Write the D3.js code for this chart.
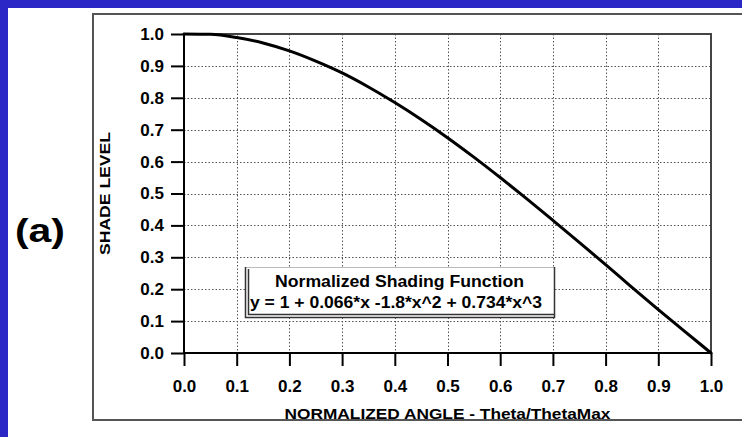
<!DOCTYPE html>
<html>
<head>
<meta charset="utf-8">
<script src="https://cdn.jsdelivr.net/npm/d3@7"></script>
<style>
  html, body { margin: 0; padding: 0; background: #ffffff; }
  svg { display: block; }
  text { font-family: "Liberation Sans", Arial, Helvetica, sans-serif; font-weight: bold; fill: #000; }
</style>
</head>
<body>
<svg id="chart" width="742" height="437"></svg>
<script>
// Normalized angle samples and the shade level read at each one
const angleValues = [0, 0.05, 0.1, 0.15, 0.2, 0.25, 0.3, 0.35, 0.4, 0.45, 0.5,
                     0.55, 0.6, 0.65, 0.7, 0.75, 0.8, 0.85, 0.9, 0.95, 1.0];
const shadeValues = [1.0, 0.999, 0.989, 0.972, 0.947, 0.915, 0.878, 0.834, 0.785, 0.732, 0.675,
                     0.614, 0.550, 0.484, 0.416, 0.347, 0.277, 0.206, 0.136, 0.068, 0.0];

// Tick values for both axes
const xTicks = [0, 0.1, 0.2, 0.3, 0.4, 0.5, 0.6, 0.7, 0.8, 0.9, 1.0];
const yTicks = [0, 0.1, 0.2, 0.3, 0.4, 0.5, 0.6, 0.7, 0.8, 0.9, 1.0];

// Text
const xTitle = "NORMALIZED ANGLE - Theta/ThetaMax";
const yTitle = "SHADE LEVEL";
const panelLabel = "(a)";
const legendTitle = "Normalized Shading Function";
const legendEquation = "y = 1 + 0.066*x -1.8*x^2 + 0.734*x^3";

const svg = d3.select("#chart");
const W = 742, H = 437;

// Page background with blue edge strips
svg.append("rect").attr("width", W).attr("height", H).attr("fill", "#ffffff");
svg.append("rect").attr("x", 0).attr("y", 0).attr("width", W).attr("height", 8).attr("fill", "#2b27c6");
svg.append("rect").attr("x", 0).attr("y", 0).attr("width", 8).attr("height", H).attr("fill", "#2b27c6");

// Chart panel frame (runs off the right edge)
svg.append("rect")
  .attr("x", 93).attr("y", 14).attr("width", 700).attr("height", 406)
  .attr("fill", "none").attr("stroke", "#555").attr("stroke-width", 2);

// Scales
const x = d3.scaleLinear().domain([0, 1]).range([184, 711]);
const y = d3.scaleLinear().domain([0, 1]).range([353, 34]);

// Dotted grid
const grid = svg.append("g").attr("stroke", "#555").attr("stroke-width", 1)
  .attr("stroke-dasharray", "1.5,2");
grid.selectAll("line.gx").data(xTicks.slice(1, -1)).join("line")
  .attr("x1", d => Math.round(x(d)) + 0.5).attr("x2", d => Math.round(x(d)) + 0.5)
  .attr("y1", y(1)).attr("y2", y(0));
grid.selectAll("line.gy").data(yTicks.slice(1, -1)).join("line")
  .attr("x1", x(0)).attr("x2", x(1))
  .attr("y1", d => Math.round(y(d)) + 0.5).attr("y2", d => Math.round(y(d)) + 0.5);

// Top and right plot frame
svg.append("path")
  .attr("d", `M${x(0)},${y(1)}H${x(1)}V${y(0)}`)
  .attr("fill", "none").attr("stroke", "#444").attr("stroke-width", 2);

// Axes
const fmt = d3.format(".1f");
const yAxis = svg.append("g").attr("transform", `translate(${x(0)},0)`)
  .call(d3.axisLeft(y).tickValues(yTicks).tickFormat(fmt).tickSize(13).tickPadding(7));
const xAxis = svg.append("g").attr("transform", `translate(0,${y(0)})`)
  .call(d3.axisBottom(x).tickValues(xTicks).tickFormat(fmt).tickSize(13).tickPadding(14));
[yAxis, xAxis].forEach(g => {
  g.select(".domain").remove();
  g.selectAll(".tick line").attr("stroke", "#000").attr("stroke-width", 2);
  g.selectAll(".tick text").attr("font-size", 17).attr("font-weight", "bold")
    .attr("font-family", "Liberation Sans, Arial, sans-serif").attr("fill", "#000");
});
// Solid left and bottom axis lines
svg.append("path")
  .attr("d", `M${x(0)},${y(1)}V${y(0)}H${x(1)}`)
  .attr("fill", "none").attr("stroke", "#000").attr("stroke-width", 2);

// Axis titles
svg.append("text")
  .attr("x", (x(0) + x(1)) / 2).attr("y", 419)
  .attr("text-anchor", "middle").attr("font-size", 15)
  .attr("textLength", 326).attr("lengthAdjust", "spacingAndGlyphs")
  .text(xTitle);
svg.append("text")
  .attr("transform", `translate(110,${(y(0) + y(1)) / 2}) rotate(-90)`)
  .attr("text-anchor", "middle").attr("font-size", 15)
  .attr("textLength", 123).attr("lengthAdjust", "spacingAndGlyphs")
  .text(yTitle);

// Panel label
svg.append("text")
  .attr("x", 40).attr("y", 242)
  .attr("text-anchor", "middle").attr("font-size", 34)
  .attr("textLength", 50).attr("lengthAdjust", "spacingAndGlyphs")
  .text(panelLabel);

// Shading curve
const pts = angleValues.map((a, i) => [a, shadeValues[i]]);
svg.append("path")
  .datum(pts)
  .attr("d", d3.line().x(d => x(d[0])).y(d => y(d[1])).curve(d3.curveMonotoneX))
  .attr("fill", "none").attr("stroke", "#000").attr("stroke-width", 3)
  .attr("stroke-linejoin", "round").attr("stroke-linecap", "round");

// Legend box
const lg = svg.append("g");
lg.append("rect").attr("x", 245).attr("y", 267).attr("width", 309).attr("height", 50)
  .attr("fill", "#fff").attr("stroke", "none");
lg.append("line").attr("x1", 245).attr("x2", 554).attr("y1", 267.5).attr("y2", 267.5)
  .attr("stroke", "#bbb").attr("stroke-width", 1);
lg.append("path").attr("d", "M245.5,267V317.5H554.5V267")
  .attr("fill", "none").attr("stroke", "#333").attr("stroke-width", 1.5);
lg.append("path").attr("d", "M248.5,269V314.5H554")
  .attr("fill", "none").attr("stroke", "#333").attr("stroke-width", 1.5);
lg.append("text")
  .attr("x", 399.5).attr("y", 287).attr("text-anchor", "middle").attr("font-size", 16)
  .attr("textLength", 249).attr("lengthAdjust", "spacingAndGlyphs")
  .text(legendTitle);
lg.append("text")
  .attr("x", 250).attr("y", 308).attr("font-size", 16)
  .attr("textLength", 292).attr("lengthAdjust", "spacingAndGlyphs")
  .text(legendEquation);
</script>
</body>
</html>
